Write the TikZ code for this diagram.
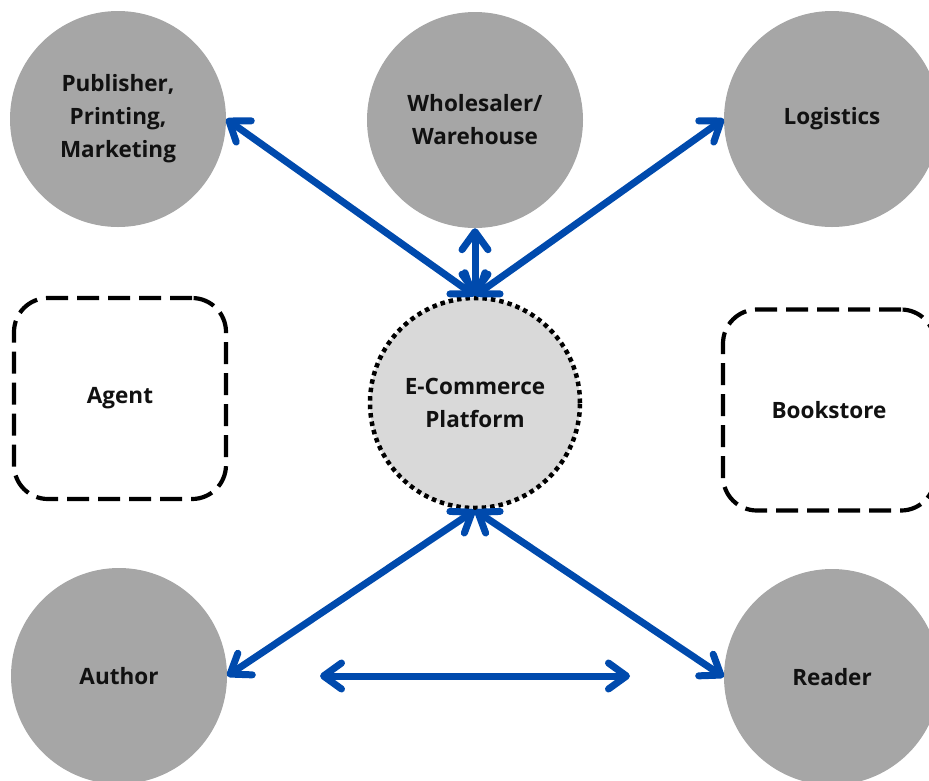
\documentclass[tikz,border=0pt]{standalone}
\usepackage{fontspec}
\setmainfont{Open Sans}
\usetikzlibrary{arrows.meta}
\definecolor{linkblue}{RGB}{0,74,173}
\definecolor{nodegray}{RGB}{166,166,166}
\definecolor{hubgray}{RGB}{217,217,217}
\definecolor{inkblack}{RGB}{17,17,17}
\begin{document}
\begin{tikzpicture}[x=1pt,y=-1pt,
  label text/.style={text=inkblack, align=center, font=\bfseries\fontsize{22.5}{33}\selectfont},
  actor/.style={circle, fill=nodegray, minimum size=216pt, inner sep=0pt, label text},
  hub/.style={circle, fill=hubgray, draw=black, line width=4.5pt,
    dash pattern=on 4.5pt off 4pt, minimum size=210pt, inner sep=0pt, label text},
  outsider/.style={rectangle, rounded corners=34pt, draw=black, line width=4.2pt,
    dash pattern=on 22pt off 9pt, minimum width=212pt, minimum height=201pt,
    inner sep=0pt, label text},
  chevron/.tip={Straight Barb[length=18pt, width=26pt, round]},
  link/.style={draw=linkblue, line width=7pt, line cap=round, chevron-chevron},
]
\useasboundingbox (0,0) rectangle (929,780);

% actors around the platform
\node[actor] (pub)   at (118,119) {Publisher,\\Printing,\\Marketing};
\node[actor] (whole) at (475,120) {Wholesaler/\\Warehouse};
\node[actor] (logi)  at (832,119) {Logistics};
\node[actor] (auth)  at (119,676) {Author};
\node[actor] (read)  at (832,677) {Reader};

% intermediaries that the platform bypasses
\node[outsider] (agent) at (120,398.5) {Agent};
\node[outsider] (store) at (829,410) {Bookstore};

% the platform in the middle
\node[hub] (ec) at (475,403) {E-Commerce\\Platform};

% free ends of the direct author--reader link
\coordinate (dl) at (320,676);
\coordinate (dr) at (630,676);

% links
\draw[link] (pub.east)    -- (ec.north);
\draw[link] (whole.south) -- (ec.north);
\draw[link] (logi.west)   -- (ec.north);
\draw[link] (auth.east)   -- (ec.south);
\draw[link] (read.west)   -- (ec.south);
\draw[link] (dl) -- (dr);
\end{tikzpicture}
\end{document}
